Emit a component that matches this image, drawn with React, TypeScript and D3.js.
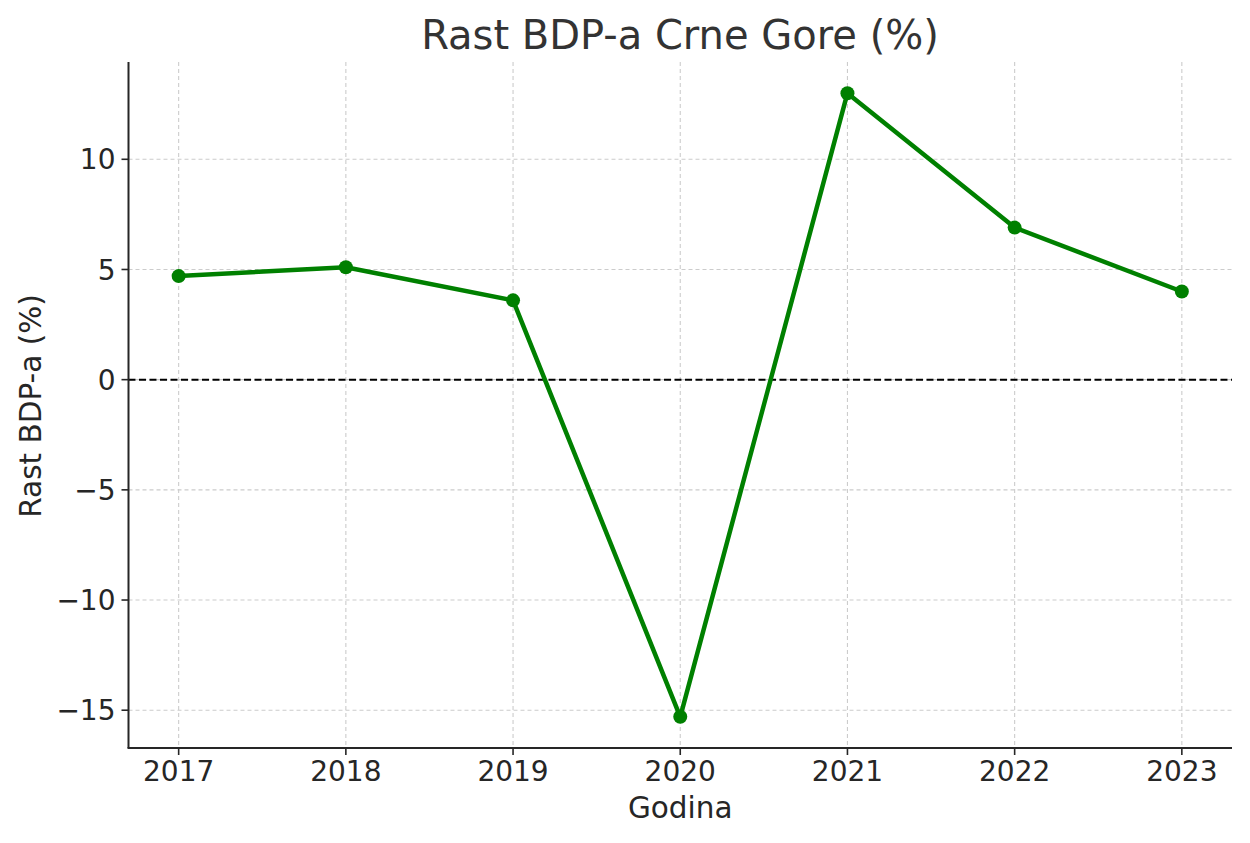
import React from "react";
import * as d3 from "d3";

const years = [2017, 2018, 2019, 2020, 2021, 2022, 2023];
const growth = [4.7, 5.1, 3.6, -15.3, 13.0, 6.9, 4.0];
const yTicks = [-15, -10, -5, 0, 5, 10];
const yTickLabels = ["\u221215", "\u221210", "\u22125", "0", "5", "10"];

const W = 1250, H = 843;
const left = 128.5, right = 1232, top = 62, bottom = 748;

export default function App() {
  const x = d3.scaleLinear().domain([2016.7, 2023.3]).range([left, right]);
  const yMin = d3.min(growth)!, yMax = d3.max(growth)!;
  const pad = (yMax - yMin) * 0.05;
  const y = d3.scaleLinear().domain([yMin - pad, yMax + pad]).range([bottom, top]);
  const line = d3.line<number>().x((_, i) => x(years[i])).y((d) => y(d));
  const font = "DejaVu Sans, sans-serif";
  const txt = "#262626";
  return (
    <svg width={W} height={H} style={{ position: "absolute", left: 0, top: 0 }} fontFamily={font}>
      <rect width={W} height={H} fill="#fff" />
      {years.map((yr) => (
        <line key={"gx" + yr} x1={x(yr)} x2={x(yr)} y1={top} y2={bottom} stroke="#cccccc" strokeWidth={1.1} strokeDasharray="4,3" />
      ))}
      {yTicks.map((t) => (
        <line key={"gy" + t} x1={left} x2={right} y1={y(t)} y2={y(t)} stroke="#cccccc" strokeWidth={1.1} strokeDasharray="4,3" />
      ))}
      <line x1={left} x2={right} y1={y(0)} y2={y(0)} stroke="#000" strokeWidth={2} strokeDasharray="7,3.5" />
      <path d={line(growth) || ""} fill="none" stroke="#008000" strokeWidth={4.5} strokeLinejoin="round" />
      {growth.map((v, i) => (
        <circle key={"p" + i} cx={x(years[i])} cy={y(v)} r={7} fill="#008000" />
      ))}
      <line x1={left} x2={left} y1={top} y2={bottom} stroke={txt} strokeWidth={2} />
      <line x1={left - 1} x2={right} y1={bottom} y2={bottom} stroke={txt} strokeWidth={2} />
      {yTicks.map((t, i) => (
        <g key={"yt" + t}>
          <line x1={left - 7} x2={left} y1={y(t)} y2={y(t)} stroke={txt} strokeWidth={1.6} />
          <text x={left - 13} y={y(t)} dy="0.36em" textAnchor="end" fontSize={28} fill={txt}>{yTickLabels[i]}</text>
        </g>
      ))}
      {years.map((yr) => (
        <g key={"xt" + yr}>
          <line x1={x(yr)} x2={x(yr)} y1={bottom} y2={bottom + 7} stroke={txt} strokeWidth={1.6} />
          <text x={x(yr)} y={781} textAnchor="middle" fontSize={28} fill={txt}>{yr}</text>
        </g>
      ))}
      <text x={(left + right) / 2} y={818} textAnchor="middle" fontSize={29.5} fill={txt}>Godina</text>
      <text transform={`translate(41,${406}) rotate(-90)`} textAnchor="middle" fontSize={29.5} fill={txt}>Rast BDP-a (%)</text>
      <text x={680} y={49} textAnchor="middle" fontSize={40} fill="#333">Rast BDP-a Crne Gore (%)</text>
    </svg>
  );
}
